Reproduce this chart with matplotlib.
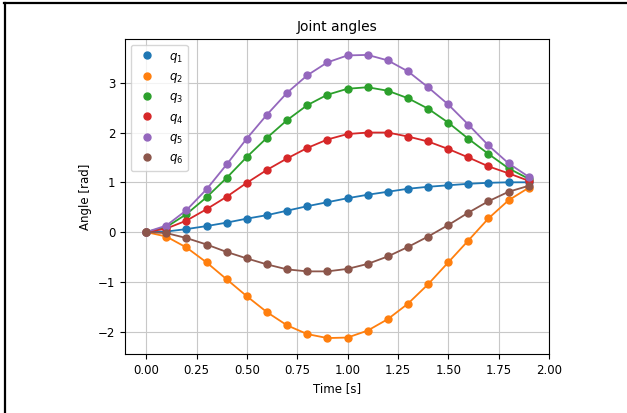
import matplotlib.pyplot as plt
from matplotlib.lines import Line2D

# 时间轴与六个关节角
t = [0.0, 0.1, 0.2, 0.3, 0.4, 0.5, 0.6, 0.7, 0.8, 0.9,
     1.0, 1.1, 1.2, 1.3, 1.4, 1.5, 1.6, 1.7, 1.8, 1.9]

q1 = [0.0, 0.01, 0.06, 0.12, 0.19, 0.27, 0.34, 0.43, 0.52, 0.60,
      0.68, 0.75, 0.81, 0.87, 0.91, 0.94, 0.97, 0.99, 1.00, 1.00]
q2 = [0.0, -0.09, -0.31, -0.61, -0.95, -1.29, -1.61, -1.875, -2.05, -2.13,
      -2.12, -1.98, -1.75, -1.44, -1.05, -0.61, -0.17, 0.275, 0.64, 0.89]
q3 = [0.0, 0.10, 0.36, 0.70, 1.09, 1.51, 1.895, 2.25, 2.55, 2.76,
      2.88, 2.91, 2.84, 2.69, 2.48, 2.20, 1.875, 1.57, 1.28, 1.07]
q4 = [0.0, 0.07, 0.23, 0.46, 0.71, 0.99, 1.25, 1.48, 1.69, 1.86,
      1.97, 2.00, 2.00, 1.92, 1.82, 1.67, 1.50, 1.32, 1.18, 1.03]
q5 = [0.0, 0.13, 0.44, 0.86, 1.36, 1.88, 2.36, 2.80, 3.15, 3.41,
      3.55, 3.56, 3.45, 3.23, 2.91, 2.565, 2.16, 1.74, 1.38, 1.11]
q6 = [0.0, -0.02, -0.12, -0.25, -0.40, -0.53, -0.65, -0.75, -0.79, -0.79,
      -0.74, -0.64, -0.49, -0.30, -0.09, 0.14, 0.39, 0.62, 0.81, 0.93]

labels = ['$q_1$', '$q_2$', '$q_3$', '$q_4$', '$q_5$', '$q_6$']
colors = ['tab:blue', 'tab:orange', 'tab:green', 'tab:red', 'tab:purple', 'tab:brown']

plt.rcParams['font.size'] = 8.5

fig = plt.figure(figsize=(6.27, 4.13), dpi=100)
ax = fig.add_axes([0.1994, 0.1429, 0.676, 0.7627])

for q, lab, c in zip([q1, q2, q3, q4, q5, q6], labels, colors):
    ax.plot(t, q, 'o', color=c, markersize=5, label=lab)
    ax.plot(t, q, '-', color=c, linewidth=1.3)

ax.set_xlim(-0.105, 2.0)
ax.set_ylim(-2.45, 3.88)
ax.grid(True, color='#c8c8c8')
ax.set_title('Joint angles', fontsize=10)
ax.set_xlabel('Time [s]')
ax.set_ylabel('Angle [rad]')
ax.legend(loc='upper left', fontsize=8.5, labelspacing=0.45)

# 截图外框（上边与左边）
fig.add_artist(Line2D([4 / 627, 1], [1 - 3 / 413, 1 - 3 / 413],
                      transform=fig.transFigure, color='black', linewidth=1.6))
fig.add_artist(Line2D([5 / 627, 5 / 627], [0, 1 - 3 / 413],
                      transform=fig.transFigure, color='black', linewidth=1.6))

fig.savefig('out.png', dpi=100)
